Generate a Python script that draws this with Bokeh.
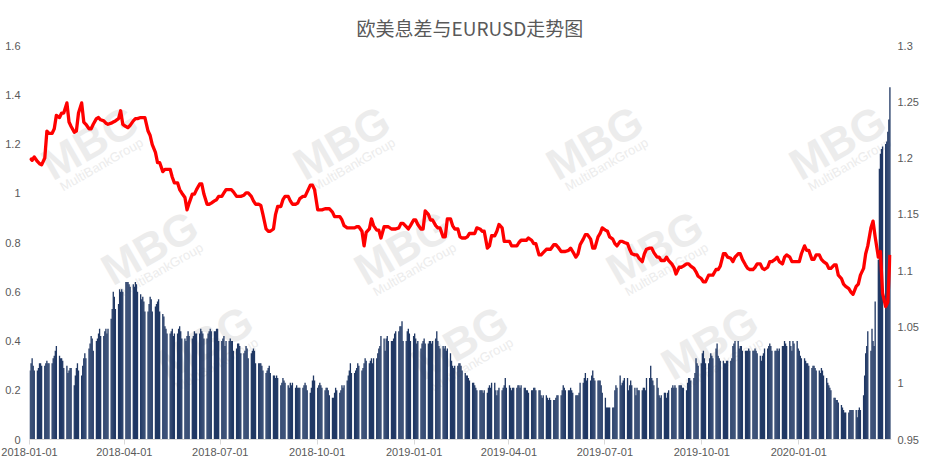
import pandas as pd
from bokeh.plotting import figure
from bokeh.models import Range1d, LinearAxis, FixedTicker, NumeralTickFormatter, DatetimeTickFormatter, Label
from bokeh.embed import file_html
from bokeh.resources import INLINE

title_text = "欧美息差与EURUSD走势图"
start_date = "2018-01-01"
end_date = "2020-03-27"

# US-EU rate spread, one value per business day (5 per week)
spread = [
    0.28,0.31,0.33,0.30,0.28, 0.28,0.29,0.31,0.31,0.30, 0.30,0.31,0.32,0.31,0.31, 0.31,0.33,0.34,0.36,0.38,
    0.34,0.33,0.33,0.32,0.29, 0.30,0.27,0.28,0.29,0.29, 0.22,0.26,0.29,0.31,0.28, 0.26,0.30,0.33,0.35,0.33,
    0.37,0.39,0.42,0.41,0.36, 0.40,0.41,0.43,0.45,0.42, 0.42,0.44,0.45,0.43,0.45, 0.49,0.53,0.60,0.58,0.53,
    0.55,0.61,0.60,0.61,0.60, 0.64,0.64,0.64,0.63,0.62, 0.63,0.62,0.64,0.63,0.60, 0.59,0.57,0.58,0.56,0.52,
    0.52,0.55,0.58,0.57,0.52, 0.54,0.55,0.56,0.57,0.52, 0.51,0.50,0.46,0.45,0.43, 0.43,0.44,0.45,0.42,0.43,
    0.43,0.45,0.46,0.44,0.41, 0.41,0.40,0.42,0.44,0.42, 0.41,0.42,0.44,0.43,0.43, 0.43,0.45,0.44,0.43,0.41,
    0.41,0.43,0.44,0.45,0.44, 0.44,0.44,0.45,0.45,0.40, 0.40,0.41,0.42,0.38,0.40, 0.40,0.41,0.40,0.40,0.36,
    0.37,0.39,0.39,0.38,0.35, 0.35,0.36,0.38,0.37,0.33, 0.35,0.36,0.37,0.36,0.31, 0.31,0.31,0.31,0.30,0.28,
    0.27,0.28,0.29,0.30,0.27, 0.26,0.26,0.25,0.26,0.25, 0.22,0.23,0.25,0.24,0.23, 0.22,0.21,0.23,0.22,0.23,
    0.21,0.22,0.21,0.21,0.21, 0.21,0.22,0.23,0.22,0.20, 0.19,0.21,0.24,0.26,0.24, 0.21,0.22,0.23,0.22,0.21,
    0.20,0.21,0.21,0.20,0.18, 0.17,0.17,0.19,0.21,0.20, 0.19,0.20,0.22,0.21,0.22, 0.24,0.26,0.28,0.31,0.27,
    0.27,0.28,0.29,0.31,0.30, 0.28,0.29,0.31,0.33,0.32, 0.31,0.32,0.33,0.31,0.33, 0.33,0.35,0.37,0.38,0.42,
    0.41,0.36,0.41,0.42,0.40, 0.40,0.40,0.41,0.43,0.44, 0.44,0.46,0.46,0.48,0.40, 0.40,0.44,0.45,0.43,0.40,
    0.42,0.43,0.41,0.39,0.40, 0.37,0.39,0.40,0.41,0.39, 0.39,0.40,0.40,0.39,0.40, 0.41,0.44,0.40,0.38,0.37,
    0.38,0.37,0.38,0.36,0.37, 0.35,0.32,0.30,0.29,0.30, 0.30,0.31,0.31,0.30,0.28, 0.27,0.26,0.26,0.25,0.24,
    0.23,0.23,0.22,0.21,0.20, 0.20,0.20,0.20,0.19,0.20, 0.19,0.21,0.22,0.21,0.23, 0.23,0.20,0.18,0.20,0.21,
    0.20,0.21,0.22,0.25,0.21, 0.22,0.21,0.20,0.21,0.21, 0.21,0.22,0.22,0.21,0.22, 0.21,0.21,0.20,0.20,0.19,
    0.20,0.20,0.21,0.21,0.20, 0.20,0.20,0.18,0.17,0.18, 0.18,0.17,0.16,0.17,0.16, 0.16,0.16,0.17,0.18,0.18,
    0.18,0.20,0.22,0.21,0.20, 0.20,0.20,0.21,0.20,0.19, 0.18,0.18,0.18,0.19,0.23, 0.23,0.25,0.27,0.24,0.25,
    0.24,0.26,0.28,0.25,0.24, 0.24,0.24,0.24,0.22,0.19, 0.17,0.13,0.13,0.13,0.13, 0.13,0.13,0.20,0.22,0.21,
    0.26,0.22,0.23,0.24,0.25, 0.25,0.20,0.22,0.24,0.22, 0.21,0.18,0.21,0.20,0.20, 0.20,0.21,0.21,0.20,0.25,
    0.25,0.30,0.25,0.24,0.22, 0.25,0.21,0.18,0.17,0.18, 0.19,0.19,0.17,0.19,0.20, 0.21,0.22,0.21,0.22,0.21,
    0.22,0.22,0.22,0.21,0.21, 0.20,0.23,0.25,0.25,0.24, 0.25,0.27,0.33,0.31,0.30, 0.31,0.35,0.36,0.33,0.31,
    0.31,0.33,0.35,0.34,0.33, 0.37,0.39,0.34,0.33,0.32, 0.32,0.31,0.31,0.32,0.32, 0.32,0.33,0.38,0.39,0.40,
    0.40,0.37,0.38,0.38,0.36, 0.36,0.36,0.36,0.37,0.36, 0.36,0.36,0.37,0.36,0.35, 0.34,0.32,0.34,0.35,0.37,
    0.37,0.38,0.39,0.38,0.36, 0.36,0.36,0.37,0.36,0.37, 0.38,0.38,0.40,0.39,0.38, 0.40,0.38,0.36,0.40,0.39,
    0.40,0.37,0.36,0.34,0.33, 0.33,0.32,0.31,0.31,0.30, 0.29,0.30,0.30,0.29,0.28, 0.28,0.27,0.29,0.28,0.26,
    0.25,0.23,0.22,0.21,0.20, 0.17,0.17,0.16,0.16,0.15, 0.14,0.13,0.12,0.11,0.11, 0.11,0.12,0.12,0.12,0.12,
    0.12,0.09,0.12,0.13,0.12, 0.18,0.26,0.35,0.38,0.44, 0.36,0.45,0.40,0.38,0.56, 0.73,1.10,1.16,1.18,1.19,
    1.20,1.21,1.25,1.30,1.43,
]

# EURUSD, sampled Monday / Wednesday / Friday of each week
eurusd = [
    1.200,1.198,1.201, 1.197,1.195,1.194, 1.200,1.224,1.222, 1.222,1.226,1.238, 1.236,1.240,1.240,
    1.249,1.232,1.228, 1.223,1.224,1.240, 1.249,1.232,1.230, 1.226,1.226,1.230, 1.235,1.236,1.234,
    1.233,1.231,1.230, 1.231,1.232,1.233, 1.235,1.242,1.230, 1.228,1.227,1.229, 1.233,1.235,1.235,
    1.236,1.236,1.236, 1.224,1.220,1.212, 1.205,1.196,1.196, 1.188,1.190,1.190, 1.190,1.183,1.178,
    1.178,1.172,1.169, 1.165,1.154,1.160, 1.168,1.168,1.172, 1.177,1.177,1.168, 1.159,1.159,1.160,
    1.162,1.163,1.166, 1.166,1.169,1.172, 1.172,1.172,1.170, 1.166,1.166,1.166, 1.167,1.169,1.169,
    1.166,1.162,1.159, 1.159,1.158,1.150, 1.137,1.135,1.135, 1.137,1.150,1.157, 1.157,1.163,1.166,
    1.166,1.162,1.159, 1.159,1.160,1.164, 1.166,1.166,1.170, 1.176,1.176,1.172, 1.154,1.154,1.154,
    1.155,1.155,1.155, 1.152,1.148,1.148, 1.148,1.145,1.140, 1.138,1.138,1.138, 1.138,1.139,1.139,
    1.135,1.122,1.134, 1.137,1.146,1.140, 1.136,1.136,1.129, 1.139,1.139,1.139, 1.137,1.137,1.137,
    1.138,1.142,1.142, 1.139,1.137,1.140, 1.145,1.145,1.141, 1.137,1.137,1.153, 1.150,1.145,1.145,
    1.140,1.138,1.138, 1.130,1.130,1.146, 1.146,1.140,1.137, 1.137,1.130,1.129, 1.129,1.130,1.133,
    1.133,1.133,1.138, 1.137,1.135,1.135, 1.120,1.122,1.131, 1.131,1.135,1.141, 1.138,1.126,1.126,
    1.126,1.122,1.122, 1.122,1.125,1.127, 1.127,1.127,1.129, 1.127,1.124,1.124, 1.114,1.114,1.116,
    1.119,1.119,1.119, 1.123,1.123,1.121, 1.117,1.117,1.117, 1.118,1.120,1.117, 1.112,1.115,1.123,
    1.128,1.132,1.132, 1.128,1.120,1.120, 1.130,1.133,1.138, 1.136,1.135,1.130, 1.128,1.124,1.122,
    1.126,1.126,1.125, 1.124,1.119,1.115, 1.114,1.114,1.111, 1.108,1.115,1.119, 1.120,1.120,1.116,
    1.112,1.112,1.109, 1.109,1.112,1.109, 1.106,1.103,1.097, 1.103,1.103,1.104, 1.106,1.106,1.104,
    1.102,1.099,1.095, 1.093,1.090,1.090, 1.096,1.096,1.096, 1.101,1.101,1.104, 1.115,1.115,1.112,
    1.111,1.108,1.112, 1.115,1.115,1.110, 1.105,1.102,1.101, 1.101,1.103,1.106, 1.106,1.102,1.101,
    1.103,1.108,1.108, 1.110,1.112,1.108, 1.106,1.112,1.114, 1.112,1.108,1.108, 1.108,1.108,1.115,
    1.122,1.118,1.118, 1.110,1.110,1.114, 1.114,1.110,1.108, 1.106,1.102,1.102, 1.105,1.105,1.096,
    1.093,1.088,1.086, 1.084,1.081,1.079, 1.086,1.088,1.096, 1.102,1.115,1.122, 1.138,1.144,1.130,
    1.112,1.117,1.080, 1.068,1.072,1.114,
]

x_tick_dates = ["2018-01-01", "2018-04-01", "2018-07-01", "2018-10-01", "2019-01-01",
                "2019-04-01", "2019-07-01", "2019-10-01", "2020-01-01"]
left_ticks = [0, 0.2, 0.4, 0.6, 0.8, 1.0, 1.2, 1.4, 1.6]
right_ticks = [0.95, 1.0, 1.05, 1.1, 1.15, 1.2, 1.25, 1.3]

bdays = pd.bdate_range(start_date, end_date)
half_day = pd.Timedelta(hours=12)
bar_x = bdays + half_day
line_x = bdays[bdays.weekday.isin([0, 2, 4])] + half_day
n_bar = min(len(bar_x), len(spread))
n_line = min(len(line_x), len(eurusd))

GRAY = "#595959"
p = figure(width=921, height=458, x_axis_type="datetime",
           x_range=Range1d(pd.Timestamp("2018-01-01"), pd.Timestamp("2020-03-29")),
           y_range=Range1d(0, 1.6), output_backend="svg", toolbar_location=None,
           min_border_left=29, min_border_right=0, min_border_top=45, min_border_bottom=0)
p.extra_y_ranges = {"fx": Range1d(0.95, 1.3)}

p.title.text = title_text
p.title.align = "left"
p.title.offset = 327
p.title.text_font = "Noto Sans CJK SC"
p.title.text_font_size = "19px"
p.title.text_font_style = "normal"
p.title.text_color = GRAY

p.outline_line_color = None
p.xgrid.visible = False
p.ygrid.visible = False

# faint watermarks, centres in page pixels, converted to frame-relative screen units
frame_left, frame_bottom = 30, 437
wm_centres = [(90, 140), (342, 140), (595, 140), (838, 140),
              (150, 245), (403, 245), (655, 245),
              (205, 340), (460, 340), (710, 340)]
for (cx, cy) in wm_centres:
    p.add_layout(Label(x=cx - frame_left, y=frame_bottom - cy, x_units="screen", y_units="screen",
                       text="MBG", angle=0.52, text_align="center", text_baseline="middle",
                       text_font="Liberation Sans", text_font_style="bold", text_font_size="44px",
                       text_color="#ececec", level="underlay"))
    p.add_layout(Label(x=cx - frame_left + 12, y=frame_bottom - cy - 22, x_units="screen", y_units="screen",
                       text="MultiBankGroup", angle=0.52, text_align="center", text_baseline="middle",
                       text_font="Liberation Sans", text_font_size="13px",
                       text_color="#ececec", level="underlay"))

p.vbar(x=bar_x[:n_bar], top=spread[:n_bar], bottom=0, width=1.25 * 86400000,
       fill_color="#203864", line_color=None)
p.line(x=line_x[:n_line], y=eurusd[:n_line], y_range_name="fx",
       line_color="#ff0000", line_width=3.3, line_join="round")

# x axis
xa = p.xaxis[0]
xa.ticker = FixedTicker(ticks=[pd.Timestamp(d).value // 10**6 for d in x_tick_dates])
fmt = "%Y-%m-%d"
xa.formatter = DatetimeTickFormatter(microseconds=fmt, milliseconds=fmt, seconds=fmt, minsec=fmt,
                                     minutes=fmt, hourmin=fmt, hours=fmt, days=fmt, months=fmt, years=fmt)
xa.axis_line_color = "#d9d9d9"
xa.major_tick_line_color = "#d9d9d9"
xa.major_tick_out = 5
xa.major_tick_in = 0
xa.minor_tick_line_color = None
xa.major_label_standoff = 3
xa.major_label_text_font = "Liberation Sans"
xa.major_label_text_font_size = "11px"
xa.major_label_text_color = GRAY

ya = p.yaxis[0]
ya.ticker = FixedTicker(ticks=left_ticks)
ya.formatter = NumeralTickFormatter(format="0.[00]")

yr = LinearAxis(y_range_name="fx", ticker=FixedTicker(ticks=right_ticks),
                formatter=NumeralTickFormatter(format="0.[00]"))
p.add_layout(yr, "right")

for ax, standoff in ((ya, 9), (yr, 6)):
    ax.axis_line_color = None
    ax.major_tick_line_color = None
    ax.minor_tick_line_color = None
    ax.major_tick_out = 0
    ax.major_tick_in = 0
    ax.major_label_standoff = standoff
    ax.major_label_text_font = "Liberation Sans"
    ax.major_label_text_font_size = "11px"
    ax.major_label_text_color = GRAY

open("out.html", "w").write(file_html(p, INLINE))
